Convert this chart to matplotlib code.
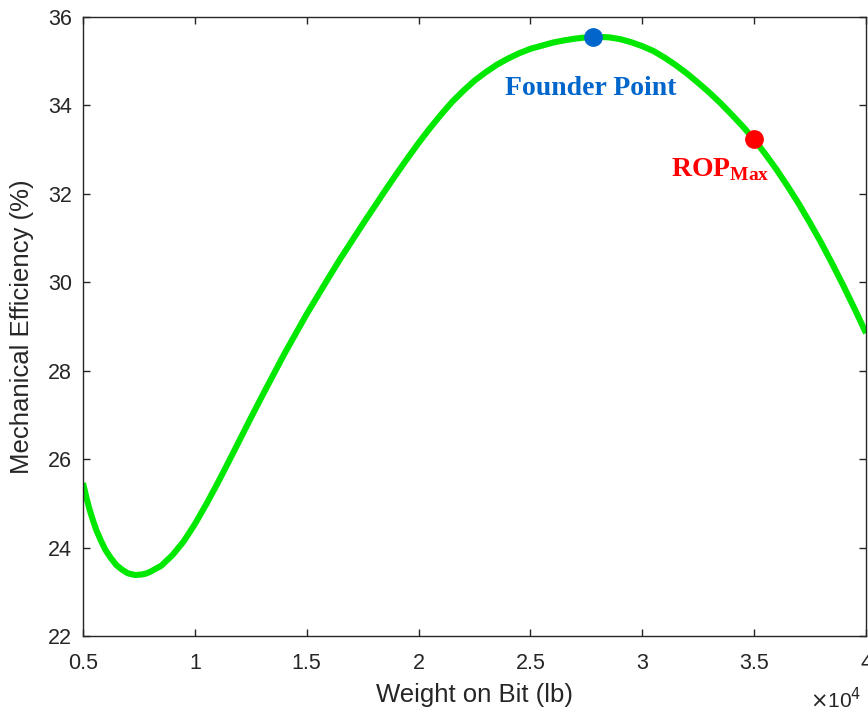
import numpy as np
import matplotlib
matplotlib.use("Agg")
from matplotlib import pyplot as plt
from matplotlib.ticker import FuncFormatter

plt.rcParams['font.family'] = ['Liberation Sans', 'DejaVu Sans']
plt.rcParams['mathtext.fontset'] = 'custom'
plt.rcParams['mathtext.rm'] = 'Liberation Serif:bold'

# weight on bit (lb) and mechanical efficiency (%)
wob = [5000, 5150, 5300, 5450, 5600, 5800, 6000, 6250, 6500, 6750, 7000,
       7150, 7330, 7600, 7800, 8000, 8500, 9000, 9500, 10000, 10500, 11000,
       11500, 12000, 12500, 13000, 13500, 14000, 14500, 15000, 15500, 16000,
       16500, 17000, 17500, 18000, 18500, 19000, 19500, 20000, 20500, 21000,
       21500, 22000, 22500, 23000, 23500, 24000, 24500, 25000, 25500, 26000,
       26500, 27000, 27500, 28000, 28500, 29000, 29500, 30000, 30500, 31000,
       31500, 32000, 32500, 33000, 33500, 34000, 34500, 35000, 35500, 36000,
       36500, 37000, 37500, 38000, 38500, 39000, 39500, 40000]
eff = [25.46, 25.14, 24.85, 24.61, 24.39, 24.16, 23.95, 23.76, 23.60, 23.50,
       23.42, 23.40, 23.38, 23.39, 23.41, 23.45, 23.59, 23.83, 24.14, 24.53,
       24.97, 25.44, 25.93, 26.43, 26.93, 27.42, 27.90, 28.38, 28.83, 29.28,
       29.70, 30.12, 30.53, 30.92, 31.31, 31.69, 32.07, 32.44, 32.80, 33.15,
       33.48, 33.79, 34.08, 34.33, 34.56, 34.75, 34.92, 35.06, 35.18, 35.28,
       35.35, 35.42, 35.47, 35.51, 35.54, 35.55, 35.54, 35.50, 35.43, 35.34,
       35.23, 35.08, 34.91, 34.72, 34.51, 34.29, 34.05, 33.79, 33.52, 33.23,
       32.90, 32.55, 32.17, 31.77, 31.34, 30.89, 30.41, 29.91, 29.39, 28.85]

founder_x, founder_y = 27800, 35.55
rop_x, rop_y = 35000, 33.24

xticks = [5000, 10000, 15000, 20000, 25000, 30000, 35000, 40000]
yticks = [22, 24, 26, 28, 30, 32, 34, 36]

fig = plt.figure(figsize=(8.68, 7.16), dpi=100)
ax = fig.add_axes([0.0956, 0.1117, 0.9021, 0.8646])

ax.plot(wob, eff, color='#00E800', lw=4.4, solid_joinstyle='round',
        solid_capstyle='butt', zorder=2)
ax.plot(founder_x, founder_y, 'o', color='#0066CC', ms=12.5, zorder=3)
ax.plot(rop_x, rop_y, 'o', color='#FF0000', ms=12.5, zorder=3)

ax.annotate('Founder Point', (founder_x, founder_y), xytext=(-2, -37),
            textcoords='offset points', ha='center', va='center',
            color='#0066CC', fontsize=20, fontweight='bold',
            family='Liberation Serif')
ax.annotate(r'$\mathrm{ROP}_{\mathrm{Max}}$', (rop_x, rop_y), xytext=(-60, -22),
            textcoords='offset points', ha='left', va='center',
            color='#FF0000', fontsize=20)

ax.set_xlim(5000, 40000)
ax.set_ylim(22, 36)
ax.set_xticks(xticks)
ax.set_yticks(yticks)
ax.xaxis.set_major_formatter(FuncFormatter(lambda v, p: '%g' % (v / 1e4)))

ax.tick_params(direction='in', length=5, width=1, top=True, right=True,
               labelsize=15.5, colors='#262626')
ax.tick_params(axis='x', pad=12)
ax.tick_params(axis='y', pad=8)
for s in ax.spines.values():
    s.set_color('#262626')
    s.set_linewidth(1)

ax.set_xlabel('Weight on Bit (lb)', fontsize=18.5, color='#262626', labelpad=7)
ax.set_ylabel('Mechanical Efficiency (%)', fontsize=18.5, color='#262626', labelpad=10)
ax.text(0.994, -0.102, r'$\times$10$^4$', transform=ax.transAxes, ha='right',
        va='center', fontsize=15, color='#262626',
        math_fontfamily='dejavusans')

fig.savefig('out.png', dpi=100)
